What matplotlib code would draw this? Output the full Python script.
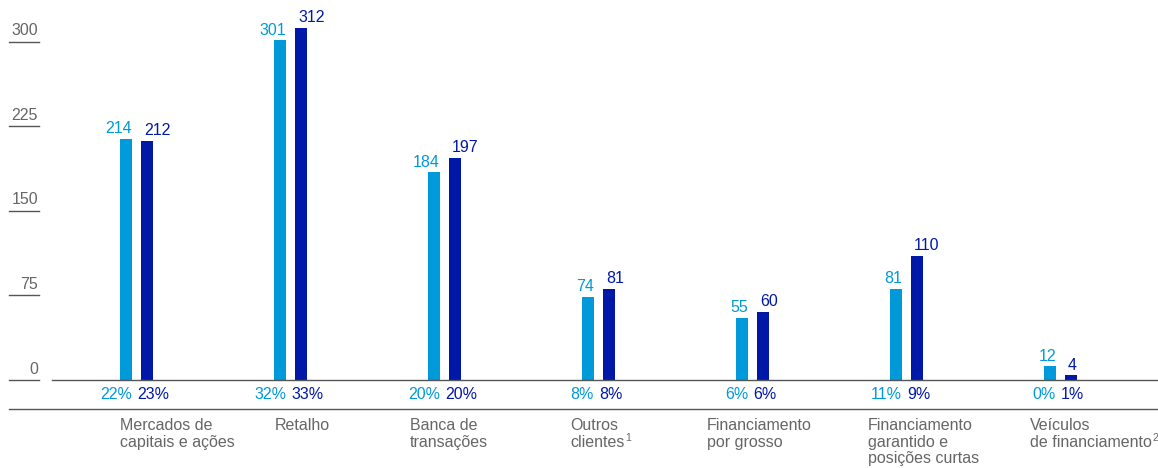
import matplotlib.pyplot as plt
import numpy as np

plt.rcParams['font.family'] = ['Liberation Sans', 'DejaVu Sans']

categories = ["Mercados de\ncapitais e ações", "Retalho", "Banca de\ntransações",
              "Outros\nclientes", "Financiamento\npor grosso",
              "Financiamento\ngarantido e\nposições curtas", "Veículos\nde financiamento"]
notas = ["", "", "", "1", "", "", "2"]
valores_a = [214, 301, 184, 74, 55, 81, 12]
valores_b = [212, 312, 197, 81, 60, 110, 4]
pct_a = [22, 32, 20, 8, 6, 11, 0]
pct_b = [23, 33, 20, 8, 6, 9, 1]
yticks = [0, 75, 150, 225, 300]

# left edge of each category label, in pixels relative to its group centre
label_shift = [-16.5, -15.5, -34.5, -28.5, -45.5, -38.5, -30.5]

azul_claro = '#0099DA'
azul_escuro = '#0018A8'
cinza = '#666666'
linha = '#555555'
fs = 11.5

W, H = 1158, 468
fig = plt.figure(figsize=(W / 100, H / 100), dpi=100)
ax = fig.add_axes([0, 0, 1, 1])
ax.axis('off')

# pixel geometry -> data limits
px_unit = 1.128
y0_px = 380
ax.set_ylim(-(H - y0_px) / px_unit, y0_px / px_unit)
step = 154.0
c0 = 136.5
ax.set_xlim(-c0 / step, (W - c0) / step)

x = np.arange(len(categories))
bw = 12 / step
off = 10.5 / step
ax.bar(x - off, valores_a, width=bw, color=azul_claro)
ax.bar(x + off, valores_b, width=bw, color=azul_escuro)

gap = 3 / step
for i in range(len(categories)):
    ax.text(x[i] - off + bw / 2, valores_a[i] + 2.5, str(valores_a[i]), color=azul_claro,
            ha='right', va='bottom', fontsize=fs)
    ax.text(x[i] + off - bw / 2 + gap, valores_b[i] + 2.5, str(valores_b[i]), color=azul_escuro,
            ha='left', va='bottom', fontsize=fs)
    ax.text(x[i] - off + bw / 2, -13, f"{pct_a[i]}%", color=azul_claro,
            ha='right', va='center', fontsize=fs)
    ax.text(x[i] + off - bw / 2 - 4 / step, -13, f"{pct_b[i]}%", color=azul_escuro,
            ha='left', va='center', fontsize=fs)
    t = ax.text(x[i] + label_shift[i] / step, -33.5, categories[i], color=cinza,
                ha='left', va='top', fontsize=fs, linespacing=1.15)
    if notas[i]:
        # footnote mark after the last line
        ax.annotate(notas[i], xy=(1, 0), xycoords=t, xytext=(0.5, 5),
                    textcoords='offset points', ha='left', va='bottom',
                    color=cinza, fontsize=7.5)

# y ticks: label over short rule
yt = ax.get_yaxis_transform()
for v in yticks:
    ax.plot([9 / W, 39 / W], [v, v], transform=yt, color=linha, lw=1, clip_on=False)
    ax.text(38 / W, v + 3, str(v), transform=yt, ha='right', va='bottom',
            color=cinza, fontsize=fs)

ax.plot([52 / W, 1], [0, 0], transform=yt, color=linha, lw=1)
ax.plot([9 / W, 1], [-(409 - y0_px) / px_unit] * 2, transform=yt, color=linha, lw=1)

fig.savefig('out.png', dpi=100)
